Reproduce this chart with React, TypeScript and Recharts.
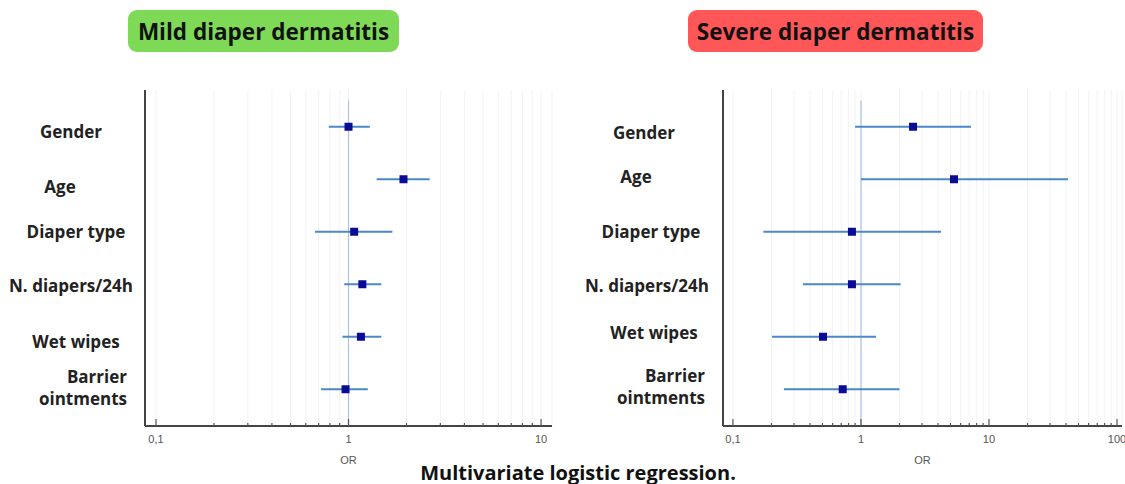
import React from 'react';
import {
  ScatterChart,
  Scatter,
  XAxis,
  YAxis,
  ErrorBar,
  CartesianGrid,
  ReferenceLine,
} from 'recharts';

// rows, top to bottom
const ROW_LABELS = [
  'Gender',
  'Age',
  'Diaper type',
  'N. diapers/24h',
  'Wet wipes',
  'Barrier\nointments',
];
const ROW_INDEX = [0, 1, 2, 3, 4, 5];

// mild diaper dermatitis: odds ratio and 95% CI
const MILD_OR = [1.0, 1.93, 1.07, 1.18, 1.16, 0.965];
const MILD_LOW = [0.79, 1.4, 0.67, 0.95, 0.93, 0.72];
const MILD_HIGH = [1.29, 2.64, 1.69, 1.48, 1.48, 1.26];

// severe diaper dermatitis
const SEVERE_OR = [2.55, 5.33, 0.85, 0.85, 0.505, 0.72];
const SEVERE_LOW = [0.9, 1.0, 0.173, 0.352, 0.202, 0.25];
const SEVERE_HIGH = [7.23, 41.4, 4.22, 2.04, 1.31, 2.0];

const MILD_TICKS = [
  0.1, 0.2, 0.3, 0.4, 0.5, 0.6, 0.7, 0.8, 0.9, 1, 2, 3, 4, 5, 6, 7, 8, 9, 10,
];
const SEVERE_TICKS = [...MILD_TICKS, 20, 30, 40, 50, 60, 70, 80, 90, 100];
const MAJOR_TICKS = [0.1, 1, 10, 100];

const MILD_DOMAIN = [0.0877, 11.4];
const SEVERE_DOMAIN = [0.0836, 109.4];

// small per-label offsets so the names sit like in the original figure
const MILD_NUDGE = [
  { dx: 0, dy: 5 },
  { dx: -11, dy: 7 },
  { dx: 5, dy: 0 },
  { dx: 0, dy: 1 },
  { dx: 5, dy: 5 },
  { dx: 0, dy: -1.5 },
];
const SEVERE_NUDGE = [
  { dx: -5, dy: 6 },
  { dx: -13, dy: -3 },
  { dx: 2, dy: 0 },
  { dx: -2, dy: 1 },
  { dx: 5, dy: -4 },
  { dx: 0, dy: -2.5 },
];

const LABEL_FONT = "'Open Sans', sans-serif";
const AXIS_COLOR = '#444';
const CI_COLOR = '#4a88c9';
const POINT_COLOR = '#0b0b96';

const buildRows = (or: number[], low: number[], high: number[]) =>
  ROW_INDEX.map(i => ({
    row: i,
    or: or[i],
    err: [or[i] - low[i], high[i] - or[i]],
  }));

const OrTick = (props: any) => {
  const { x, y, payload } = props;
  const v = payload.value;
  const major = MAJOR_TICKS.includes(v);
  return (
    <g>
      <line
        x1={x}
        x2={x}
        y1={y}
        y2={y - (major ? 7 : 3)}
        stroke='#555'
        strokeWidth={1.2}
      />
      {major && (
        <text
          x={x}
          y={y + 17}
          textAnchor='middle'
          fontSize={11}
          fill='#555'
          fontFamily="'Liberation Sans', Arial, sans-serif"
        >
          {String(v).replace('.', ',')}
        </text>
      )}
    </g>
  );
};

const RowTick = (props: any) => {
  const { x, y, payload, nudges } = props;
  const idx = payload.value;
  const lines = ROW_LABELS[idx].split('\n');
  const n = nudges[idx];
  const common = {
    fontSize: 17,
    fontWeight: 700,
    fill: '#222',
    fontFamily: LABEL_FONT,
    dominantBaseline: 'central' as const,
  };
  if (lines.length > 1) {
    return (
      <g>
        {lines.map((l: string, i: number) => (
          <text
            key={l}
            x={x - 18}
            y={y + n.dy + (i === 0 ? -11 : 11)}
            textAnchor='end'
            {...common}
          >
            {l}
          </text>
        ))}
      </g>
    );
  }
  return (
    <text x={x - 74 + n.dx} y={y + n.dy} textAnchor='middle' {...common}>
      {lines[0]}
    </text>
  );
};

interface ForestProps {
  data: { row: number; or: number; err: number[] }[];
  ticks: number[];
  domain: number[];
  nudges: { dx: number; dy: number }[];
  width: number;
  yAxisWidth: number;
  marginRight: number;
}

const Square = (props: any) => {
  const { cx, cy } = props;
  return <rect x={cx - 4} y={cy - 4} width={8} height={8} fill={POINT_COLOR} />;
};

const ForestPlot: React.FC<ForestProps> = ({
  data,
  ticks,
  domain,
  nudges,
  width,
  yAxisWidth,
  marginRight,
}) => (
  <ScatterChart
    width={width}
    height={484}
    margin={{ top: 90, right: marginRight, bottom: 0, left: 0 }}
  >
    <CartesianGrid horizontal={false} stroke='#f3f3f3' />
    <XAxis
      dataKey='or'
      type='number'
      scale='log'
      domain={domain}
      allowDataOverflow
      ticks={ticks}
      interval={0}
      tickSize={0}
      tickMargin={0}
      tickLine={false}
      height={58}
      axisLine={{ stroke: AXIS_COLOR, strokeWidth: 2 }}
      tick={<OrTick />}
      label={{
        value: 'OR',
        position: 'insideBottom',
        offset: 20,
        fill: '#555',
        fontSize: 11,
        fontFamily: "'Liberation Sans', Arial, sans-serif",
      }}
    />
    <YAxis
      dataKey='row'
      type='number'
      domain={[-0.7, 5.7]}
      reversed
      ticks={ROW_INDEX}
      interval={0}
      tickSize={0}
      tickMargin={0}
      tickLine={false}
      width={yAxisWidth}
      axisLine={{ stroke: AXIS_COLOR, strokeWidth: 2 }}
      tick={<RowTick nudges={nudges} />}
    />
    <ReferenceLine
      segment={[
        { x: 1, y: -0.5 },
        { x: 1, y: 5.7 },
      ]}
      stroke='#aac2ea'
      strokeWidth={1.2}
    />
    <Scatter data={data} isAnimationActive={false} shape={() => <g />}>
      <ErrorBar
        dataKey='err'
        direction='x'
        width={0}
        stroke={CI_COLOR}
        strokeWidth={2}
        isAnimationActive={false}
      />
    </Scatter>
    <Scatter data={data} isAnimationActive={false} shape={<Square />} />
  </ScatterChart>
);

const pillStyle = (bg: string, left: number, w: number): React.CSSProperties => ({
  position: 'absolute',
  left,
  top: 10,
  width: w,
  height: 42,
  borderRadius: 9,
  background: bg,
  display: 'flex',
  alignItems: 'center',
  justifyContent: 'center',
  fontFamily: LABEL_FONT,
  fontWeight: 700,
  fontSize: 22.5,
  color: '#111',
  whiteSpace: 'nowrap',
});

export default function App() {
  const mild = buildRows(MILD_OR, MILD_LOW, MILD_HIGH);
  const severe = buildRows(SEVERE_OR, SEVERE_LOW, SEVERE_HIGH);
  return (
    <div
      style={{
        position: 'absolute',
        left: 0,
        top: 0,
        width: 1125,
        height: 484,
        overflow: 'hidden',
        background: '#fff',
      }}
    >
      <div style={{ position: 'absolute', left: 0, top: 0 }}>
        <ForestPlot
          data={mild}
          ticks={MILD_TICKS}
          domain={MILD_DOMAIN}
          nudges={MILD_NUDGE}
          width={560}
          yAxisWidth={145}
          marginRight={8}
        />
      </div>
      <div style={{ position: 'absolute', left: 560, top: 0 }}>
        <ForestPlot
          data={severe}
          ticks={SEVERE_TICKS}
          domain={SEVERE_DOMAIN}
          nudges={SEVERE_NUDGE}
          width={565}
          yAxisWidth={163}
          marginRight={3}
        />
      </div>
      <div style={pillStyle('#7ed957', 128, 271)}>Mild diaper dermatitis</div>
      <div style={pillStyle('#ff5757', 688, 295)}>Severe diaper dermatitis</div>
      <div
        style={{
          position: 'absolute',
          left: 0,
          width: 1156,
          top: 463,
          textAlign: 'center',
          fontFamily: LABEL_FONT,
          fontWeight: 700,
          fontSize: 20,
          lineHeight: '19px',
          color: '#111',
          whiteSpace: 'nowrap',
        }}
      >
        Multivariate logistic regression.
      </div>
    </div>
  );
}
